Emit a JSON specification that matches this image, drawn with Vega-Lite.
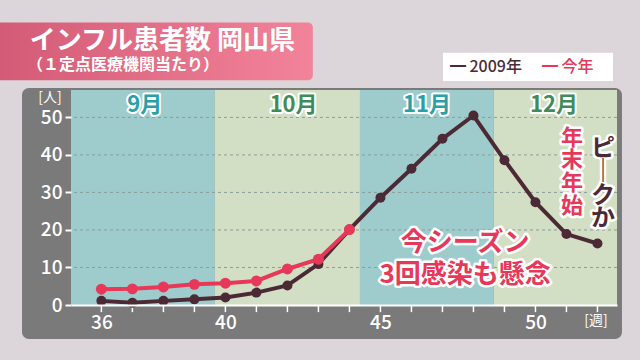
{
  "$schema": "https://vega.github.io/schema/vega-lite/v6.json",
  "width": 546,
  "height": 215,
  "autosize": {"type": "none"},
  "padding": {"left": 71, "top": 90, "right": 23, "bottom": 55},
  "background": "#dcd5da",
  "config": {"view": {"stroke": null}, "font": "Noto Sans CJK JP"},
  "resolve": {"scale": {"color": "independent", "size": "independent"}},
  "datasets": {
    "series": [
      {"week": 36, "value": 1.1, "series": "2009年"},
      {"week": 37, "value": 0.6, "series": "2009年"},
      {"week": 38, "value": 1.1, "series": "2009年"},
      {"week": 39, "value": 1.5, "series": "2009年"},
      {"week": 40, "value": 2.0, "series": "2009年"},
      {"week": 41, "value": 3.3, "series": "2009年"},
      {"week": 42, "value": 5.2, "series": "2009年"},
      {"week": 43, "value": 10.9, "series": "2009年"},
      {"week": 44, "value": 20.1, "series": "2009年"},
      {"week": 45, "value": 28.6, "series": "2009年"},
      {"week": 46, "value": 36.3, "series": "2009年"},
      {"week": 47, "value": 44.3, "series": "2009年"},
      {"week": 48, "value": 50.5, "series": "2009年"},
      {"week": 49, "value": 38.6, "series": "2009年"},
      {"week": 50, "value": 27.4, "series": "2009年"},
      {"week": 51, "value": 18.9, "series": "2009年"},
      {"week": 52, "value": 16.4, "series": "2009年"},
      {"week": 36, "value": 4.2, "series": "今年"},
      {"week": 37, "value": 4.3, "series": "今年"},
      {"week": 38, "value": 4.8, "series": "今年"},
      {"week": 39, "value": 5.5, "series": "今年"},
      {"week": 40, "value": 5.8, "series": "今年"},
      {"week": 41, "value": 6.4, "series": "今年"},
      {"week": 42, "value": 9.6, "series": "今年"},
      {"week": 43, "value": 12.2, "series": "今年"},
      {"week": 44, "value": 20.1, "series": "今年"}
    ],
    "months": [
      {"start": 35, "end": 39.66, "mid": 37.4, "month": "9月", "kind": "a"},
      {"start": 39.66, "end": 44.34, "mid": 42.2, "month": "10月", "kind": "b"},
      {"start": 44.34, "end": 48.65, "mid": 46.5, "month": "11月", "kind": "a"},
      {"start": 48.65, "end": 53, "mid": 50.6, "month": "12月", "kind": "b"}
    ],
    "grid": [{"v": 10}, {"v": 20}, {"v": 30}, {"v": 40}, {"v": 50}]
  },
  "layer": [
    {
      "data": {"values": [{"x1": 33.44, "x2": 52.79, "y1": -9.05, "y2": 57.8}]},
      "mark": {"type": "rect", "color": "#7a7a7a", "cornerRadius": 7, "clip": false},
      "encoding": {
        "x": {"field": "x1", "type": "quantitative", "scale": {"domain": [35.02, 52.63], "nice": false, "zero": false},
          "axis": {"values": [36, 40, 45, 50], "title": null, "grid": false, "zindex": 1, "domainColor": "#ffffff", "domainWidth": 2, "ticks": false, "labelColor": "#ffffff", "labelFontSize": 19, "labelFontWeight": 500, "labelPadding": 8, "labelFlush": false, "labelOverlap": false}},
        "x2": {"field": "x2"},
        "y": {"field": "y1", "type": "quantitative", "scale": {"domain": [0, 57.3], "nice": false, "zero": false},
          "axis": {"values": [0, 10, 20, 30, 40, 50], "title": null, "grid": false, "zindex": 1, "domain": false, "tickColor": "#ffffff", "tickSize": 6, "tickWidth": 2, "labelColor": "#ffffff", "labelFontSize": 19, "labelFontWeight": 500, "labelPadding": 3, "labelFlush": false}},
        "y2": {"field": "y2"}
      }
    },
    {
      "data": {"values": [{"x1": 32.6, "x2": 42.82, "y1": 59.9, "y2": 75.3}]},
      "mark": {"type": "rect", "cornerRadius": 5, "clip": false,
        "color": {"gradient": "linear", "x1": 0, "y1": 0, "x2": 1, "y2": 0,
          "stops": [{"offset": 0, "color": "#d35a76"}, {"offset": 1, "color": "#f2839a"}]}},
      "encoding": {
        "x": {"field": "x1", "type": "quantitative"},
        "x2": {"field": "x2"},
        "y": {"field": "y1", "type": "quantitative"},
        "y2": {"field": "y2"}
      }
    },
    {
      "data": {"values": [{"x1": 47.02, "x2": 52.5, "y1": 59.7, "y2": 67.2}]},
      "mark": {"type": "rect", "color": "#ffffff", "clip": false},
      "encoding": {
        "x": {"field": "x1", "type": "quantitative"},
        "x2": {"field": "x2"},
        "y": {"field": "y1", "type": "quantitative"},
        "y2": {"field": "y2"}
      }
    },
    {
      "data": {"values": [{"x": 33.69, "y": 70.3, "t": "インフル患者数 岡山県"}]},
      "mark": {"type": "text", "align": "left", "baseline": "middle", "color": "#ffffff", "fontWeight": "bold", "fontSize": 26, "clip": false},
      "encoding": {
        "x": {"field": "x", "type": "quantitative"},
        "y": {"field": "y", "type": "quantitative"},
        "text": {"field": "t"}
      }
    },
    {
      "data": {"values": [{"x": 33.6, "y": 64.0, "t": "（１定点医療機関当たり）"}]},
      "mark": {"type": "text", "align": "left", "baseline": "middle", "color": "#ffffff", "fontWeight": "bold", "fontSize": 16, "clip": false},
      "encoding": {
        "x": {"field": "x", "type": "quantitative"},
        "y": {"field": "y", "type": "quantitative"},
        "text": {"field": "t"}
      }
    },
    {
      "data": {"values": [{"x": 47.24, "y": 63.4, "t": "━ 2009年"}]},
      "mark": {"type": "text", "align": "left", "baseline": "middle", "fontSize": 16, "fontWeight": 500, "color": "#4b2a36", "clip": false},
      "encoding": {
        "x": {"field": "x", "type": "quantitative"},
        "y": {"field": "y", "type": "quantitative"},
        "text": {"field": "t"}
      }
    },
    {
      "data": {"values": [{"x": 50.21, "y": 63.4, "t": "━ 今年"}]},
      "mark": {"type": "text", "align": "left", "baseline": "middle", "fontSize": 16, "fontWeight": 500, "color": "#e8385a", "clip": false},
      "encoding": {
        "x": {"field": "x", "type": "quantitative"},
        "y": {"field": "y", "type": "quantitative"},
        "text": {"field": "t"}
      }
    },
    {
      "data": {"name": "months"},
      "mark": {"type": "rect", "clip": true},
      "encoding": {
        "x": {"field": "start", "type": "quantitative"},
        "x2": {"field": "end"},
        "color": {"field": "kind", "type": "nominal", "scale": {"domain": ["a", "b"], "range": ["#9ecbcb", "#d3dfc4"]}, "legend": null}
      }
    },
    {
      "data": {"name": "grid"},
      "mark": {"type": "rule", "color": "#8a9d9b", "strokeDash": [3, 3], "strokeWidth": 1},
      "encoding": {
        "y": {"field": "v", "type": "quantitative"}
      }
    },
    {
      "data": {"name": "series"},
      "transform": [{"filter": "datum.series == '2009年'"}],
      "mark": {"type": "rule", "color": "#ffffff", "strokeWidth": 1.5, "clip": false},
      "encoding": {
        "x": {"field": "week", "type": "quantitative"},
        "y": {"datum": 0, "type": "quantitative"},
        "y2": {"datum": -1.9}
      }
    },
    {
      "data": {"name": "months"},
      "mark": {"type": "text", "fontSize": 22, "fontWeight": "bold", "baseline": "middle", "stroke": "#ffffff", "strokeWidth": 4, "strokeJoin": "round", "clip": false},
      "encoding": {
        "x": {"field": "mid", "type": "quantitative"},
        "y": {"datum": 53.3, "type": "quantitative"},
        "text": {"field": "month"}
      }
    },
    {
      "data": {"name": "months"},
      "mark": {"type": "text", "fontSize": 22, "fontWeight": "bold", "baseline": "middle", "clip": false},
      "encoding": {
        "x": {"field": "mid", "type": "quantitative"},
        "y": {"datum": 53.3, "type": "quantitative"},
        "text": {"field": "month"},
        "color": {"field": "kind", "type": "nominal", "scale": {"domain": ["a", "b"], "range": ["#2a9fa8", "#3f8b5c"]}, "legend": null}
      }
    },
    {
      "data": {"name": "series"},
      "transform": [{"filter": "datum.series == '2009年'"}],
      "mark": {"type": "line", "color": "#4b2a36", "strokeWidth": 4, "point": {"filled": true, "size": 100, "color": "#4b2a36"}},
      "encoding": {
        "x": {"field": "week", "type": "quantitative"},
        "y": {"field": "value", "type": "quantitative"}
      }
    },
    {
      "data": {"name": "series"},
      "transform": [{"filter": "datum.series == '今年'"}],
      "mark": {"type": "line", "color": "#e8385a", "strokeWidth": 4, "point": {"filled": true, "size": 120, "color": "#e8385a"}},
      "encoding": {
        "x": {"field": "week", "type": "quantitative"},
        "y": {"field": "value", "type": "quantitative"}
      }
    },
    {
      "data": {"values": [
        {"x": 47.73, "y": 16.4, "t": "今シーズン"},
        {"x": 47.73, "y": 8.1, "t": "3回感染も懸念"}
      ]},
      "layer": [
        {"mark": {"type": "text", "fontWeight": "bold", "fontSize": 26, "baseline": "middle", "stroke": "#ffffff", "strokeWidth": 5, "strokeJoin": "round", "clip": false}},
        {"mark": {"type": "text", "fontWeight": "bold", "fontSize": 26, "baseline": "middle", "color": "#e8385a", "clip": false}}
      ],
      "encoding": {
        "x": {"field": "x", "type": "quantitative"},
        "y": {"field": "y", "type": "quantitative"},
        "text": {"field": "t"}
      }
    },
    {
      "data": {"values": [{"x": 51.18, "y": 44.6, "t": "年\n末\n年\n始"}]},
      "layer": [
        {"mark": {"type": "text", "fontWeight": "bold", "fontSize": 22, "baseline": "middle", "lineBreak": "\n", "lineHeight": 22.7, "stroke": "#ffffff", "strokeWidth": 5, "strokeJoin": "round", "clip": false}},
        {"mark": {"type": "text", "fontWeight": "bold", "fontSize": 22, "baseline": "middle", "lineBreak": "\n", "lineHeight": 22.7, "color": "#e8385a", "clip": false}}
      ],
      "encoding": {
        "x": {"field": "x", "type": "quantitative"},
        "y": {"field": "y", "type": "quantitative"},
        "text": {"field": "t"}
      }
    },
    {
      "data": {"values": [{"x": 52.18, "y": 41.7, "t": "ピ\n｜\nク\nか"}]},
      "layer": [
        {"mark": {"type": "text", "fontWeight": "bold", "fontSize": 24, "baseline": "middle", "lineBreak": "\n", "lineHeight": 23.5, "stroke": "#ffffff", "strokeWidth": 5, "strokeJoin": "round", "clip": false}},
        {"mark": {"type": "text", "fontWeight": "bold", "fontSize": 24, "baseline": "middle", "lineBreak": "\n", "lineHeight": 23.5, "color": "#4b2a36", "clip": false}}
      ],
      "encoding": {
        "x": {"field": "x", "type": "quantitative"},
        "y": {"field": "y", "type": "quantitative"},
        "text": {"field": "t"}
      }
    },
    {
      "data": {"values": [
        {"x": 34.34, "y": 55.1, "t": "[人]"},
        {"x": 51.95, "y": -4.2, "t": "[週]"}
      ]},
      "mark": {"type": "text", "color": "#ffffff", "fontSize": 14, "baseline": "middle", "clip": false},
      "encoding": {
        "x": {"field": "x", "type": "quantitative"},
        "y": {"field": "y", "type": "quantitative"},
        "text": {"field": "t"}
      }
    }
  ]
}
